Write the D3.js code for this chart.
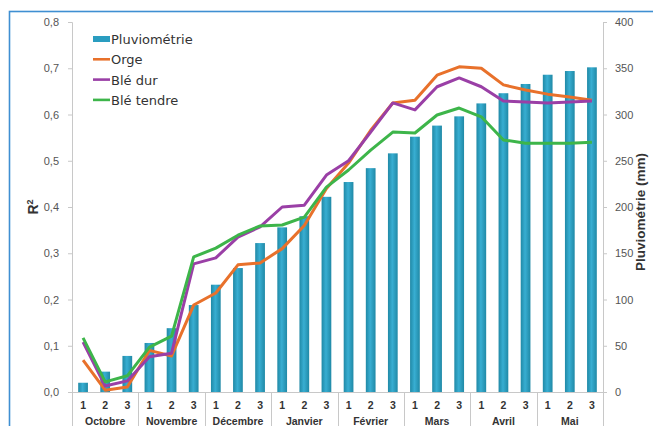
<!DOCTYPE html>
<html>
<head>
<meta charset="utf-8">
<script src="https://cdn.jsdelivr.net/npm/d3@7"></script>
<style>
  html, body { margin: 0; padding: 0; background: #fff; overflow: hidden; }
  svg { display: block; font-family: "Liberation Sans", Arial, sans-serif; }
</style>
</head>
<body>
<svg id="chart" width="653" height="426"></svg>
<script>
// Ten-day periods (décades) within each month
const months = ["Octobre", "Novembre", "Décembre", "Janvier", "Février", "Mars", "Avril", "Mai"];
const decades = ["1", "2", "3"];

// Cumulative rainfall (mm), one value per décade
const pluviometrie = [10, 22, 39, 53, 69, 94, 116, 134, 161, 178, 190, 211,
                      227, 242, 258, 276, 288, 298, 312, 323, 333, 343, 347, 351];

// R² per crop, one value per décade
const orge = [0.069, 0.004, 0.011, 0.090, 0.078, 0.188, 0.214, 0.275, 0.279, 0.310, 0.360, 0.440,
              0.495, 0.566, 0.625, 0.631, 0.685, 0.703, 0.700, 0.664, 0.653, 0.644, 0.638, 0.631];
const bleDur = [0.108, 0.013, 0.024, 0.076, 0.084, 0.277, 0.290, 0.335, 0.357, 0.400, 0.404, 0.469,
                0.500, 0.562, 0.625, 0.610, 0.660, 0.679, 0.660, 0.629, 0.627, 0.625, 0.627, 0.629];
const bleTendre = [0.117, 0.022, 0.035, 0.097, 0.121, 0.292, 0.311, 0.339, 0.359, 0.361, 0.378, 0.443,
                   0.480, 0.523, 0.562, 0.560, 0.599, 0.614, 0.595, 0.545, 0.538, 0.538, 0.538, 0.540];

const leftTicks = [0, 0.1, 0.2, 0.3, 0.4, 0.5, 0.6, 0.7, 0.8];
const rightTicks = [0, 50, 100, 150, 200, 250, 300, 350, 400];

const series = [
  { name: "Orge", values: orge, color: "#e8712b" },
  { name: "Blé dur", values: bleDur, color: "#9a3fa6" },
  { name: "Blé tendre", values: bleTendre, color: "#3db54a" }
];

const svg = d3.select("#chart");
const plot = { left: 72, right: 603, top: 22, bottom: 392 };

// frame around the figure
svg.append("rect")
  .attr("x", 9.5).attr("y", 11.5).attr("width", 700).attr("height", 500)
  .attr("fill", "none").attr("stroke", "#3f8fd2").attr("stroke-width", 1.6);

const idx = d3.range(pluviometrie.length);
const x = d3.scaleBand().domain(idx).range([plot.left, plot.right]).paddingInner(0).paddingOuter(0);
const xBar = d3.scaleBand().domain(idx).range([plot.left, plot.right]).paddingInner(0.56).paddingOuter(0.28);
const yL = d3.scaleLinear().domain([0, 0.8]).range([plot.bottom, plot.top]);
const yR = d3.scaleLinear().domain([0, 400]).range([plot.bottom, plot.top]);

// bar gradient
const defs = svg.append("defs");
const grad = defs.append("linearGradient").attr("id", "barGrad")
  .attr("x1", 0).attr("y1", 0).attr("x2", 1).attr("y2", 0);
grad.append("stop").attr("offset", "0%").attr("stop-color", "#2089a6");
grad.append("stop").attr("offset", "45%").attr("stop-color", "#38aed2");
grad.append("stop").attr("offset", "100%").attr("stop-color", "#2089a6");

// bars
svg.append("g").selectAll("rect").data(pluviometrie).join("rect")
  .attr("x", (d, i) => xBar(i))
  .attr("width", xBar.bandwidth())
  .attr("y", d => yR(d))
  .attr("height", d => plot.bottom - yR(d))
  .attr("fill", "url(#barGrad)");

// left axis
const axL = svg.append("g").attr("transform", `translate(${plot.left},0)`)
  .call(d3.axisLeft(yL).tickValues(leftTicks).tickSize(4).tickPadding(9)
    .tickFormat(d => d3.format(".1f")(d).replace(".", ",")));
axL.select(".domain").attr("stroke", "#c8c8c8");
axL.selectAll(".tick line").attr("stroke", "#c8c8c8");
axL.selectAll("text").attr("fill", "#555").attr("font-size", 11);

// right axis
const axR = svg.append("g").attr("transform", `translate(${plot.right},0)`)
  .call(d3.axisRight(yR).tickValues(rightTicks).tickSize(4).tickPadding(8));
axR.select(".domain").attr("stroke", "#c8c8c8");
axR.selectAll(".tick line").attr("stroke", "#c8c8c8");
axR.selectAll("text").attr("fill", "#555").attr("font-size", 11);

// category axis
svg.append("line")
  .attr("x1", plot.left).attr("x2", plot.right)
  .attr("y1", plot.bottom + 0.5).attr("y2", plot.bottom + 0.5)
  .attr("stroke", "#c8c8c8");

svg.append("g").selectAll("text").data(idx).join("text")
  .attr("x", i => x(i) + x.bandwidth() / 2)
  .attr("y", 409)
  .attr("text-anchor", "middle")
  .attr("font-size", 10.5).attr("font-weight", "bold").attr("fill", "#333")
  .text(i => decades[i % 3]);

// month separators and labels
const monthEdges = d3.range(months.length + 1).map(m => m === months.length ? plot.right : x(m * 3));
svg.append("g").selectAll("line").data(monthEdges).join("line")
  .attr("x1", d => Math.round(d) + 0.5).attr("x2", d => Math.round(d) + 0.5)
  .attr("y1", plot.bottom).attr("y2", 426)
  .attr("stroke", "#c8c8c8");

svg.append("g").selectAll("text").data(months).join("text")
  .attr("x", (d, m) => (x(m * 3) + (m === months.length - 1 ? plot.right : x(m * 3 + 3))) / 2)
  .attr("y", 425)
  .attr("text-anchor", "middle")
  .attr("font-size", 10.5).attr("font-weight", "bold").attr("fill", "#333")
  .text(d => d);

// lines
const line = d3.line().x((d, i) => x(i) + x.bandwidth() / 2);
series.forEach(s => {
  const path = line.y(d => yL(d));
  svg.append("path").datum(s.values)
    .attr("d", path)
    .attr("fill", "none")
    .attr("stroke", s.color)
    .attr("stroke-width", 3)
    .attr("stroke-linejoin", "round");
});

// axis titles
svg.append("text")
  .attr("transform", "translate(38,207) rotate(-90)")
  .attr("text-anchor", "middle")
  .attr("font-size", 14).attr("font-weight", "bold").attr("fill", "#333")
  .html("R<tspan font-size='9' dy='-5'>2</tspan>");

svg.append("text")
  .attr("transform", "translate(645,212) rotate(-90)")
  .attr("text-anchor", "middle")
  .attr("font-size", 13.5).attr("font-weight", "bold").attr("fill", "#333")
  .text("Pluviométrie (mm)");

// legend
const legend = svg.append("g").attr("transform", "translate(93,39)");
const legendItems = [{ name: "Pluviométrie", type: "bar" }]
  .concat(series.map(s => ({ name: s.name, type: "line", color: s.color })));
legendItems.forEach((it, k) => {
  const g = legend.append("g").attr("transform", `translate(0,${k * 20.3})`);
  if (it.type === "bar") {
    g.append("rect").attr("x", 0).attr("y", -3).attr("width", 17).attr("height", 6)
      .attr("fill", "#2a9dc0");
  } else {
    g.append("line").attr("x1", 0).attr("x2", 17).attr("y1", 0).attr("y2", 0)
      .attr("stroke", it.color).attr("stroke-width", 2.6);
  }
  g.append("text").attr("x", 18).attr("y", 5)
    .attr("font-family", "'DejaVu Sans', sans-serif")
    .attr("font-size", 13).attr("fill", "#333")
    .text(it.name);
});
</script>
</body>
</html>
